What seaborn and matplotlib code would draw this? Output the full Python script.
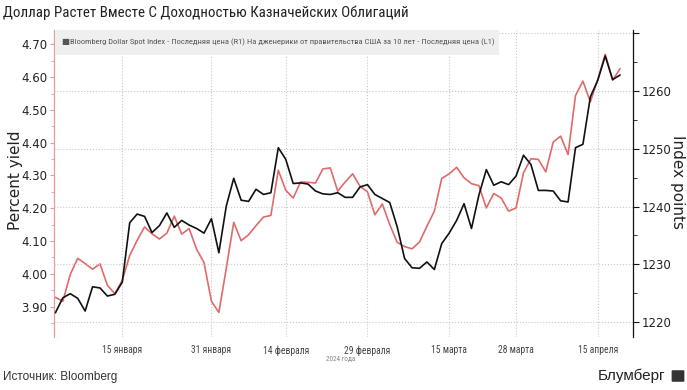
import matplotlib
matplotlib.use("Agg")
import matplotlib.pyplot as plt
from matplotlib import font_manager as fm
from matplotlib.patches import Rectangle, FancyBboxPatch
from matplotlib.ticker import MultipleLocator
import seaborn as sns
import pandas as pd

# trading days shown on the chart (Good Friday is missing)
dates = pd.bdate_range("2024-01-02", "2024-04-18").drop(pd.Timestamp("2024-03-29"))

# US 10y generic yield, % (left axis, red)
yield_10y = [3.928, 3.916, 3.998, 4.047, 4.031, 4.014, 4.030, 3.965, 3.939, 3.980,
             4.056, 4.102, 4.143, 4.122, 4.106, 4.124, 4.176, 4.121, 4.138, 4.075,
             4.034, 3.916, 3.882, 4.017, 4.157, 4.101, 4.119, 4.147, 4.173, 4.178,
             4.316, 4.255, 4.231, 4.280, 4.279, 4.277, 4.320, 4.323, 4.252, 4.280,
             4.305, 4.267, 4.250, 4.180, 4.213, 4.150, 4.096, 4.083, 4.076, 4.097,
             4.145, 4.191, 4.291, 4.305, 4.325, 4.293, 4.275, 4.269, 4.201, 4.245,
             4.231, 4.191, 4.201, 4.308, 4.351, 4.349, 4.311, 4.402, 4.420, 4.364,
             4.544, 4.588, 4.525, 4.593, 4.670, 4.591, 4.626]

# Bloomberg Dollar Spot Index (right axis, black)
dollar_idx = [1221.6, 1224.2, 1224.9, 1224.1, 1221.9, 1226.1, 1225.9, 1224.5, 1224.8, 1226.9,
              1237.2, 1238.7, 1238.3, 1235.5, 1236.7, 1238.9, 1236.4, 1237.6, 1236.8, 1236.2,
              1235.4, 1237.9, 1232.0, 1240.1, 1244.9, 1241.1, 1240.9, 1243.0, 1242.1, 1242.4,
              1250.2, 1248.2, 1244.0, 1244.1, 1243.9, 1242.7, 1242.2, 1242.1, 1242.4, 1241.6,
              1241.6, 1243.4, 1243.8, 1242.1, 1241.4, 1240.7, 1236.5, 1231.0, 1229.4, 1229.3,
              1230.4, 1229.1, 1233.6, 1235.4, 1237.6, 1240.5, 1236.2, 1242.0, 1246.4, 1243.7,
              1244.3, 1243.8, 1245.3, 1248.9, 1247.3, 1242.8, 1242.8, 1242.7, 1241.0, 1240.8,
              1250.2, 1250.8, 1259.0, 1261.9, 1266.1, 1262.0, 1262.8]

tick_dates = ["2024-01-15", "2024-01-31", "2024-02-14", "2024-02-29",
              "2024-03-15", "2024-03-28", "2024-04-15"]
tick_labels = ["15 января", "31 января", "14 февраля", "29 февраля",
               "15 марта", "28 марта", "15 апреля"]
left_ticks = [3.90, 4.00, 4.10, 4.20, 4.30, 4.40, 4.50, 4.60, 4.70]
right_ticks = [1220, 1230, 1240, 1250, 1260, 1270]

RED = "#e06a6a"


def first_font(names):
    for n in names:
        try:
            fm.findfont(fm.FontProperties(family=n), fallback_to_default=False)
            return n
        except ValueError:
            pass
    return "Liberation Sans"


narrow = first_font(["Liberation Sans Narrow", "DejaVu Sans Condensed",
                     "Roboto Condensed", "Open Sans Condensed", "Liberation Sans"])
NARROW = [narrow, "DejaVu Sans"]

sns.set_style("white")
plt.rcParams["font.family"] = ["Liberation Sans", "DejaVu Sans"]

df = pd.DataFrame({"n": range(len(dates)), "date": dates,
                   "yld": yield_10y, "idx": dollar_idx})
tick_pos = [df.index[df["date"] == pd.Timestamp(d)][0] for d in tick_dates]

fig = plt.figure(figsize=(6.87, 3.9), dpi=100)
ax = fig.add_axes([54 / 687, 53 / 390, 579 / 687, 307 / 390])
ax2 = ax.twinx()

sns.lineplot(data=df, x="n", y="yld", ax=ax, color=RED, lw=1.2)
sns.lineplot(data=df, x="n", y="idx", ax=ax2, color="#111111", lw=1.2)

ax.set_xlim(-0.19, 77.74)
ax.set_ylim(3.807, 4.744)
ax2.set_ylim(1217.4, 1270.6)

ax.set_xticks(tick_pos)
xt = ax.set_xticklabels(tick_labels, fontsize=8, color="#444444", family=NARROW)
ax.tick_params(axis="x", length=0, pad=6)
ax.set_xlabel("")

ax.set_yticks(left_ticks)
ax.set_yticklabels([f"{v:.2f}" for v in left_ticks], fontsize=8.5,
                   color="#222222", family="DejaVu Sans")
ax.yaxis.set_minor_locator(MultipleLocator(0.05))
ax.tick_params(axis="y", which="major", length=3, color="#e89a9a", pad=2)
ax.tick_params(axis="y", which="minor", length=2, color="#e89a9a")

ax2.set_yticks(right_ticks)
ax2.set_yticklabels([str(v) if v < 1270 else "" for v in right_ticks], fontsize=8.5,
                    color="#222222", family="DejaVu Sans")
ax2.yaxis.set_minor_locator(MultipleLocator(5))
ax2.tick_params(axis="y", which="major", length=4, color="#111111", pad=2)
ax2.tick_params(axis="y", which="minor", length=3, color="#111111")

for s in ["top", "right", "bottom"]:
    ax.spines[s].set_visible(False)
for s in ["top", "left", "bottom"]:
    ax2.spines[s].set_visible(False)
ax.spines["left"].set_color("#e89a9a")
ax.spines["left"].set_linewidth(0.9)
ax2.spines["right"].set_color("#111111")
ax2.spines["right"].set_linewidth(0.9)

ax.grid(axis="x", ls=":", color="#c8c8c8", lw=0.8)
ax.grid(axis="y", visible=False)
ax2.grid(axis="y", ls=":", color="#c8c8c8", lw=0.8)

ax.set_ylabel("Percent yield", fontsize=11, color="#222222", family="DejaVu Sans")
ax.yaxis.set_label_coords(-0.053, 0.51)
ax2.set_ylabel("Index points", fontsize=11, color="#222222", family="DejaVu Sans",
               rotation=270)
ax2.yaxis.set_label_coords(1.09, 0.505)

# legend strip
fig.patches.append(Rectangle((55 / 687, 1 - 55 / 390), 444 / 687, 25 / 390,
                             transform=fig.transFigure, facecolor="#efefef",
                             edgecolor="none", zorder=5))
legend_txt = fig.text(62 / 687, 1 - 42 / 390,
                      "■Bloomberg Dollar Spot Index - Последняя цена (R1) "
                      "На дженерики от правительства США за 10 лет - Последняя цена (L1)",
                      fontsize=6.5, color="#555555", va="center", ha="left",
                      family=NARROW, zorder=6)

title = fig.text(3 / 687, 1 - 13 / 390,
                 "Доллар Растет Вместе С Доходностью Казначейских Облигаций",
                 fontsize=12.5, color="#222222", va="center", ha="left", family=NARROW)
year_txt = fig.text(341 / 687, 1 - 359 / 390, "2024 года", fontsize=5, color="#888888",
                    va="center", ha="center", family=NARROW)
fig.text(3 / 687, 1 - 377 / 390, "Источник: Bloomberg", fontsize=8.5,
         color="#333333", va="center", ha="left")
fig.text(598 / 687, 1 - 376 / 390, "Блумберг", fontsize=11,
         color="#222222", va="center", ha="left")
fig.patches.append(FancyBboxPatch((673 / 687, 1 - 381 / 390), 10 / 687, 10 / 390,
                                  boxstyle="round,pad=0.002", transform=fig.transFigure,
                                  facecolor="#333333", edgecolor="none"))

# shrink the narrow-font texts to the widths seen in the reference
renderer = fig.canvas.get_renderer()


def fit(txt, target_px):
    w = txt.get_window_extent(renderer).width
    txt.set_fontsize(txt.get_fontsize() * target_px / w)


fit(title, 406)
fit(legend_txt, 430)
fit(year_txt, 30)
scale = 40 / xt[0].get_window_extent(renderer).width
for t in xt:
    t.set_fontsize(t.get_fontsize() * scale)

fig.savefig("out.png", dpi=100)
